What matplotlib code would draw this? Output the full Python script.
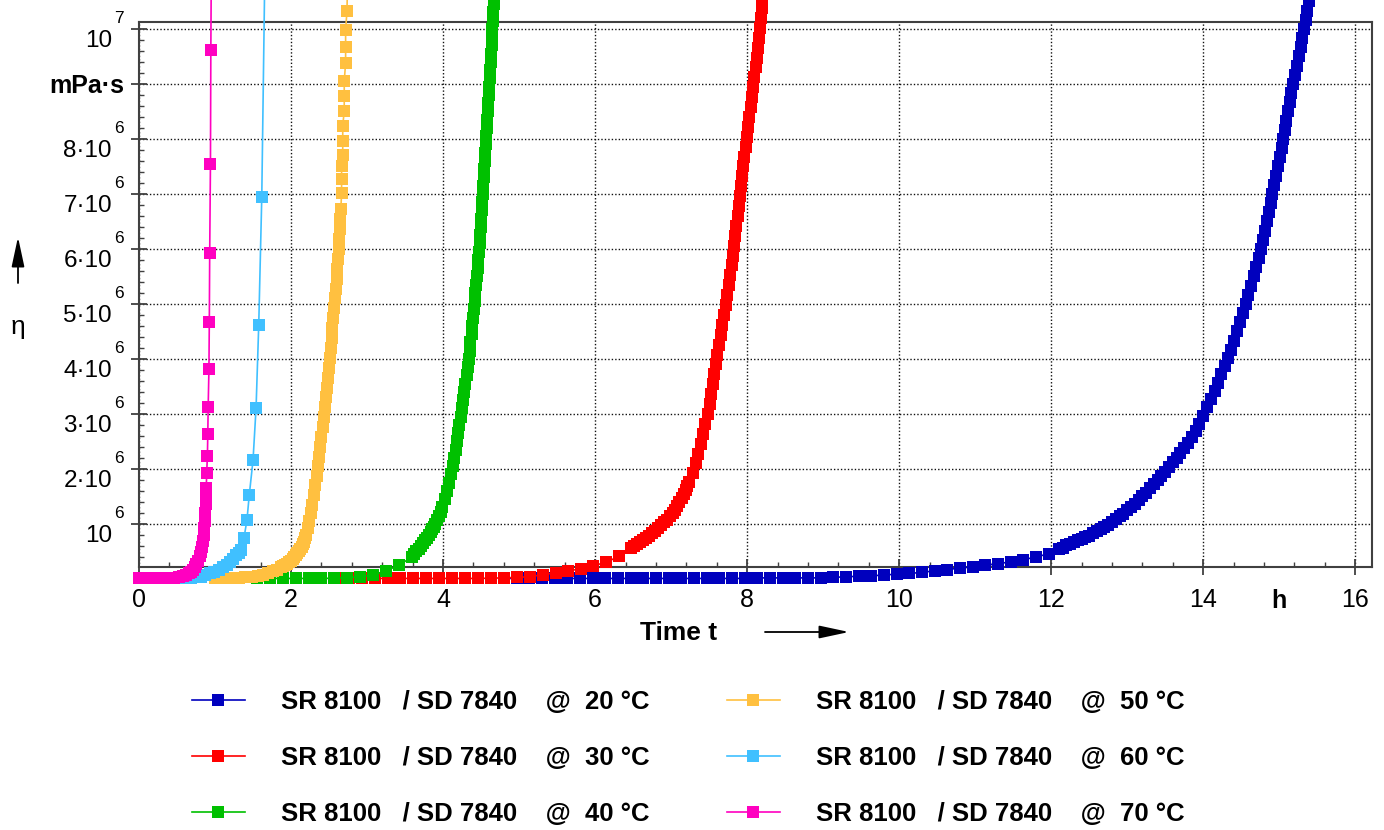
import matplotlib
matplotlib.use("Agg")
import matplotlib.pyplot as plt
from matplotlib.ticker import FixedLocator, MultipleLocator, NullFormatter

# ---------------- data (time in h, viscosity in 10^6 mPa·s) ----------------
t20 = [4.80, 4.97, 5.13, 5.30, 5.47, 5.63, 5.80, 5.97, 6.13, 6.30, 6.47, 6.63, 6.80,
       6.97, 7.13, 7.30, 7.47, 7.63, 7.80, 7.97, 8.13, 8.30, 8.47, 8.63, 8.80, 8.97,
       9.13, 9.30, 9.47, 9.63, 9.80, 9.97, 10.13, 10.30, 10.47, 10.63, 10.80, 10.97,
       11.13, 11.30, 11.47, 11.63, 11.80, 11.97,
       12.10, 12.15, 12.20, 12.25, 12.30, 12.35, 12.40, 12.45, 12.50, 12.55, 12.60,
       12.65, 12.70, 12.75, 12.80, 12.85, 12.90, 12.95, 13.00, 13.05, 13.10, 13.15,
       13.20, 13.25, 13.30, 13.35, 13.40, 13.45, 13.50, 13.55, 13.60, 13.65, 13.70,
       13.75, 13.80, 13.85, 13.90, 13.95, 14.00,
       14.05, 14.10, 14.15, 14.195, 14.24, 14.285, 14.33, 14.37, 14.41, 14.45,
       14.49, 14.525, 14.56, 14.595, 14.63, 14.665, 14.695, 14.73, 14.76, 14.785,
       14.81, 14.835, 14.86, 14.885, 14.91, 14.935, 14.96, 14.98, 15.005, 15.03,
       15.05, 15.07, 15.095, 15.115, 15.135, 15.16, 15.18, 15.205, 15.23, 15.255,
       15.28, 15.305, 15.33, 15.35, 15.37, 15.39, 15.42]
eta20 = [0.01, 0.01, 0.01, 0.01, 0.01, 0.01, 0.01, 0.01, 0.01, 0.01, 0.01, 0.01, 0.01,
         0.01, 0.01, 0.01, 0.01, 0.01, 0.01, 0.01, 0.02, 0.02, 0.02, 0.02, 0.02, 0.02,
         0.03, 0.04, 0.05, 0.06, 0.07, 0.09, 0.10, 0.12, 0.15, 0.17, 0.20, 0.22,
         0.25, 0.28, 0.31, 0.35, 0.40, 0.46,
         0.54, 0.57, 0.61, 0.64, 0.67, 0.70, 0.73, 0.76, 0.79, 0.83, 0.87,
         0.91, 0.95, 0.99, 1.04, 1.09, 1.14, 1.19, 1.25, 1.31, 1.37, 1.43,
         1.50, 1.57, 1.65, 1.72, 1.80, 1.87, 1.95, 2.04, 2.12, 2.20, 2.29,
         2.39, 2.48, 2.59, 2.69, 2.81, 2.96,
         3.12, 3.27, 3.42, 3.57, 3.72, 3.87, 4.02, 4.17, 4.33, 4.50,
         4.67, 4.83, 5.00, 5.17, 5.33, 5.50, 5.67, 5.83, 6.00, 6.17,
         6.33, 6.50, 6.67, 6.83, 7.00, 7.17, 7.33, 7.50, 7.67, 7.83,
         8.00, 8.17, 8.33, 8.50, 8.67, 8.83, 9.00, 9.17, 9.33, 9.50,
         9.67, 9.83, 10.00, 10.17, 10.33, 10.50, 10.70]

t30 = [2.59, 2.76, 2.93, 3.10, 3.27, 3.44, 3.61, 3.78, 3.95, 4.12, 4.29, 4.46, 4.63,
       4.80, 4.97, 5.14, 5.31, 5.48, 5.64, 5.81, 5.97, 6.14, 6.31,
       6.47, 6.51, 6.55, 6.59, 6.63, 6.67, 6.71, 6.75, 6.79, 6.83, 6.87, 6.91,
       6.95, 6.99, 7.02, 7.05, 7.08, 7.11, 7.14, 7.165, 7.19, 7.215, 7.24,
       7.285, 7.325, 7.36, 7.39, 7.42, 7.45, 7.48, 7.505, 7.53, 7.55, 7.57, 7.59,
       7.61, 7.63, 7.65, 7.67, 7.69, 7.72, 7.74, 7.76, 7.775, 7.795, 7.81, 7.83,
       7.845, 7.86, 7.875, 7.89, 7.905, 7.92, 7.935, 7.95, 7.965, 7.98, 8.00, 8.015,
       8.03, 8.05, 8.065, 8.08, 8.095, 8.11, 8.125, 8.14, 8.155, 8.17, 8.18, 8.19,
       8.20, 8.21]
eta30 = [0.01, 0.01, 0.01, 0.01, 0.01, 0.01, 0.01, 0.01, 0.01, 0.01, 0.01, 0.01, 0.015,
         0.02, 0.03, 0.04, 0.08, 0.11, 0.14, 0.19, 0.24, 0.30, 0.41,
         0.56, 0.60, 0.63, 0.67, 0.71, 0.75, 0.79, 0.83, 0.88, 0.93, 0.98, 1.03,
         1.08, 1.14, 1.20, 1.26, 1.33, 1.40, 1.47, 1.54, 1.61, 1.69, 1.77,
         1.93, 2.10, 2.28, 2.46, 2.64, 2.82, 3.00, 3.18, 3.36, 3.54, 3.72, 3.90,
         4.08, 4.26, 4.44, 4.62, 4.80, 4.98, 5.16, 5.34, 5.52, 5.70, 5.88, 6.06,
         6.24, 6.42, 6.60, 6.78, 6.96, 7.14, 7.32, 7.50, 7.68, 7.86, 8.04, 8.22,
         8.40, 8.58, 8.76, 8.94, 9.12, 9.30, 9.48, 9.66, 9.84, 10.02, 10.20, 10.38,
         10.56, 10.74]

t40 = [1.55, 1.72, 1.89, 2.06, 2.23, 2.40, 2.57, 2.74, 2.91, 3.08, 3.25, 3.42,
       3.59, 3.62, 3.65, 3.68, 3.71, 3.735, 3.76, 3.785, 3.81, 3.835, 3.86, 3.88,
       3.90, 3.925, 3.95, 3.97,
       3.985, 4.02, 4.05, 4.075,
       4.10, 4.125, 4.145, 4.165, 4.18, 4.20, 4.215, 4.23, 4.25, 4.265, 4.28, 4.295,
       4.31, 4.325, 4.34, 4.35, 4.36, 4.375, 4.385, 4.395, 4.405, 4.415, 4.425, 4.435,
       4.445, 4.455, 4.46, 4.47, 4.48, 4.485, 4.495, 4.50, 4.51, 4.515, 4.52, 4.53,
       4.535, 4.54, 4.55, 4.555, 4.56, 4.57, 4.575, 4.58, 4.59, 4.595, 4.60, 4.61,
       4.615, 4.62, 4.625, 4.63, 4.64, 4.645, 4.65, 4.655, 4.66, 4.665, 4.675]
eta40 = [0.01, 0.01, 0.01, 0.01, 0.01, 0.01, 0.015, 0.025, 0.045, 0.07, 0.15, 0.25,
         0.40, 0.45, 0.50, 0.55, 0.60, 0.65, 0.70, 0.75, 0.80, 0.85, 0.90, 0.95,
         1.00, 1.075, 1.15, 1.225,
         1.30, 1.45, 1.60, 1.75,
         1.90, 2.05, 2.20, 2.35, 2.50, 2.65, 2.80, 2.95, 3.10, 3.25, 3.40, 3.55,
         3.70, 3.85, 4.00, 4.15, 4.30, 4.45, 4.60, 4.75, 4.90, 5.05, 5.20, 5.35,
         5.50, 5.65, 5.80, 5.95, 6.10, 6.25, 6.40, 6.55, 6.70, 6.85, 7.00, 7.15,
         7.30, 7.45, 7.60, 7.75, 7.90, 8.05, 8.20, 8.35, 8.50, 8.65, 8.80, 8.95,
         9.10, 9.25, 9.40, 9.55, 9.70, 9.85, 10.00, 10.15, 10.30, 10.45, 10.70]

t50 = [1.00, 1.08, 1.16, 1.24, 1.32, 1.40, 1.48, 1.56, 1.63, 1.70, 1.76, 1.82,
       1.87, 1.895, 1.92, 1.945, 1.97, 1.995, 2.02, 2.04, 2.06, 2.08, 2.10, 2.12,
       2.14, 2.155, 2.17, 2.185, 2.20,
       2.22, 2.24, 2.26, 2.28, 2.30,
       2.32, 2.34, 2.355, 2.37, 2.385, 2.40, 2.415, 2.43, 2.445, 2.46, 2.475, 2.49,
       2.50, 2.51, 2.525, 2.535, 2.545, 2.555, 2.565, 2.575, 2.59, 2.60, 2.61, 2.62,
       2.625, 2.635, 2.64, 2.65, 2.655, 2.665, 2.665, 2.665, 2.68, 2.68, 2.68, 2.70,
       2.70, 2.70, 2.718, 2.718, 2.718, 2.736, 2.745]
eta50 = [0.01, 0.01, 0.01, 0.015, 0.02, 0.03, 0.04, 0.06, 0.08, 0.11, 0.14, 0.17,
         0.21, 0.23, 0.25, 0.275, 0.30, 0.335, 0.37, 0.405, 0.44, 0.475, 0.51, 0.55,
         0.59, 0.635, 0.68, 0.74, 0.80,
         0.92, 1.05, 1.20, 1.35, 1.52,
         1.70, 1.88, 2.05, 2.22, 2.40, 2.58, 2.76, 2.94, 3.12, 3.30, 3.48, 3.66,
         3.84, 4.02, 4.20, 4.38, 4.56, 4.74, 4.92, 5.10, 5.28, 5.46, 5.64, 5.82,
         6.00, 6.18, 6.36, 6.54, 6.72, 7.02, 7.27, 7.50, 7.71, 7.97, 8.24, 8.51,
         8.79, 9.06, 9.38, 9.68, 9.98, 10.33, 11.0]

t60 = [0.40, 0.48, 0.56, 0.63, 0.69, 0.75, 0.81, 0.87, 0.93, 0.99, 1.05, 1.11, 1.16,
       1.20, 1.24, 1.28, 1.31, 1.34, 1.38, 1.42, 1.45, 1.50, 1.54, 1.575, 1.615, 1.655]
eta60 = [0.01, 0.01, 0.01, 0.015, 0.02, 0.03, 0.045, 0.07, 0.10, 0.13, 0.17, 0.21, 0.26,
         0.31, 0.37, 0.43, 0.48, 0.53, 0.74, 1.07, 1.52, 2.16, 3.11, 4.61, 6.94, 11.0]

t70 = [0.00, 0.08, 0.16, 0.24, 0.32, 0.40, 0.46, 0.52, 0.58, 0.62, 0.66, 0.69, 0.71,
       0.735, 0.755, 0.78, 0.80, 0.815, 0.83, 0.84, 0.85, 0.86, 0.865, 0.87, 0.875,
       0.88, 0.885, 0.89, 0.90, 0.905, 0.91, 0.92, 0.925, 0.93, 0.94, 0.945, 0.955]
eta70 = [0.01, 0.01, 0.01, 0.01, 0.01, 0.015, 0.02, 0.03, 0.05, 0.07, 0.10, 0.13, 0.17,
         0.22, 0.27, 0.33, 0.41, 0.49, 0.59, 0.69, 0.80, 0.92, 1.05, 1.20, 1.36,
         1.50, 1.65, 1.92, 2.24, 2.64, 3.13, 3.81, 4.68, 5.92, 7.55, 9.61, 12.0]

series_labels = ["SR 8100   / SD 7840    @  20 °C", "SR 8100   / SD 7840    @  30 °C",
                 "SR 8100   / SD 7840    @  40 °C", "SR 8100   / SD 7840    @  50 °C",
                 "SR 8100   / SD 7840    @  60 °C", "SR 8100   / SD 7840    @  70 °C"]
series_colors = ["#0000BE", "#FF0000", "#00C000", "#FFC040", "#40C0FF", "#FF00C0"]

x_ticks = [0, 2, 4, 6, 8, 10, 12, 14, 16]
x_ticklabels = ["0", "2", "4", "6", "8", "10", "12", "14", "16"]
y_ticks = [1, 2, 3, 4, 5, 6, 7, 8, 9, 10]
y_bases = ["10", "2·10", "3·10", "4·10", "5·10", "6·10", "7·10", "8·10", "mPa·s", "10"]
y_exps = ["6", "6", "6", "6", "6", "6", "6", "6", "", "7"]

# ---------------- figure ----------------
plt.rcParams['font.family'] = ['Liberation Sans', 'DejaVu Sans']
W, H = 1384, 830
fig = plt.figure(figsize=(W / 100, H / 100), dpi=100)
ax = fig.add_axes([139 / W, 1 - 567 / H, (1372 - 139) / W, (567 - 22) / H])
ax.set_xlim(0, 16.22)
ax.set_ylim(0.218, 10.127)

handles = []
data = [(t20, eta20), (t30, eta30), (t40, eta40), (t50, eta50), (t60, eta60), (t70, eta70)]
for (t, e), c, lab in zip(data, series_colors, series_labels):
    h, = ax.plot(t, e, '-', color=c, lw=1.2, marker='s', ms=9.3, mew=0,
                 clip_on=False, zorder=3, label=lab)
    handles.append(h)

for sp in ax.spines.values():
    sp.set_color('#404040')
    sp.set_linewidth(1.5)

ax.xaxis.set_major_locator(FixedLocator(x_ticks))
ax.set_xticklabels(x_ticklabels)
ax.xaxis.set_minor_locator(MultipleLocator(0.4))
ax.yaxis.set_major_locator(FixedLocator(y_ticks))
ax.yaxis.set_major_formatter(NullFormatter())
ax.yaxis.set_minor_locator(MultipleLocator(0.2))
ax.tick_params(axis='both', which='major', direction='inout', length=11.5, width=1.3,
               color='#404040', labelcolor='black')
ax.tick_params(axis='x', which='major', labelsize=18, pad=9.3)
ax.tick_params(axis='both', which='minor', direction='in', length=3.5, width=1.0,
               color='#404040')
ax.grid(True, which='major', color='#111111', linestyle=(0, (1, 1.5)), linewidth=1.0)

# y tick labels with raised exponents
for v, b, ex in zip(y_ticks, y_bases, y_exps):
    if ex:
        ax.annotate(b, xy=(0, v), xycoords=('axes fraction', 'data'), xytext=(-27, -17.6),
                    textcoords='offset pixels', ha='right', va='baseline', fontsize=17.5,
                    annotation_clip=False)
        ax.annotate(ex, xy=(0, v), xycoords=('axes fraction', 'data'), xytext=(-25, 5.7),
                    textcoords='offset pixels', ha='left', va='baseline', fontsize=12.5,
                    annotation_clip=False)
    else:
        ax.annotate(b, xy=(0, v), xycoords=('axes fraction', 'data'), xytext=(-15, -9.3),
                    textcoords='offset pixels', ha='right', va='baseline', fontsize=18,
                    fontweight='bold', annotation_clip=False)

# unit "h" in the x tick label row
ax.annotate('h', xy=(15, 0), xycoords=('data', 'axes fraction'), xytext=(0, -21.5),
            textcoords='offset pixels', ha='center', va='top', fontsize=18,
            fontweight='bold', annotation_clip=False)

# axis titles with arrows
fig.text(640 / W, 1 - 640 / H, 'Time t', ha='left', va='baseline', fontsize=19,
         fontweight='bold')
arrow_style = dict(arrowstyle='-|>,head_length=1.4,head_width=0.3', color='black',
                   lw=1.3, mutation_scale=13, shrinkA=0, shrinkB=0)
fig.add_artist(matplotlib.patches.FancyArrowPatch((765 / W, 1 - 632 / H), (849 / W, 1 - 632 / H),
               transform=fig.transFigure, **arrow_style))
fig.add_artist(matplotlib.patches.FancyArrowPatch((18 / W, 1 - 283 / H), (18 / W, 1 - 237 / H),
               transform=fig.transFigure, **arrow_style))
fig.text(18 / W, 1 - 327 / H, 'η', ha='center', va='center', fontsize=19)

# legend
fig.legend(handles=handles, labels=series_labels, ncol=2, loc='upper left',
           bbox_to_anchor=(192 / W, 1 - 690 / H), frameon=False,
           prop=dict(family='Liberation Sans', weight='bold', size=18.5),
           handlelength=2.06, handletextpad=1.4, columnspacing=3.0,
           labelspacing=1.25, borderpad=0, borderaxespad=0, numpoints=1)

fig.savefig('out.png', dpi=100)
